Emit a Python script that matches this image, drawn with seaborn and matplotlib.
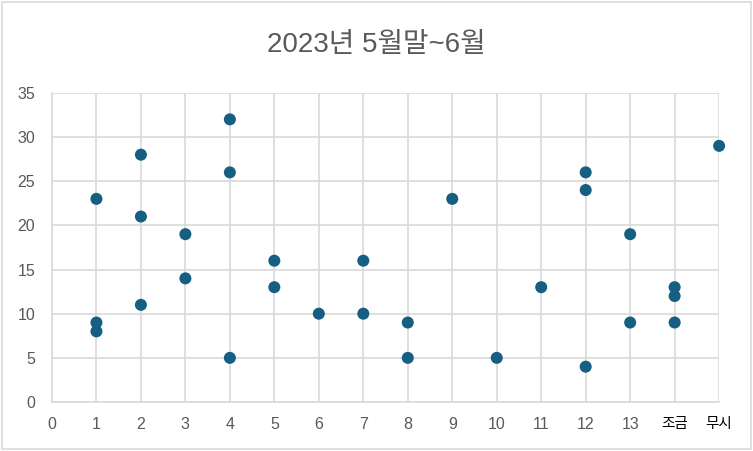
import numpy as np
import pandas as pd
import matplotlib.pyplot as plt
import seaborn as sns

# x categories (tick labels) and the points
tick_labels = ['0', '1', '2', '3', '4', '5', '6', '7', '8', '9', '10', '11', '12', '13', '조금', '무시']
x_vals = [1, 1, 1, 2, 2, 2, 3, 3, 4, 4, 4, 5, 5, 6, 7, 7, 8, 8, 9, 10, 11, 12, 12, 12, 13, 13, 14, 14, 14, 15]
y_vals = [23, 9, 8, 28, 21, 11, 19, 14, 32, 26, 5, 16, 13, 10, 16, 10, 9, 5, 23, 5, 13, 26, 24, 4, 19, 9, 13, 12, 9, 29]

df = pd.DataFrame({'x': x_vals, 'y': y_vals})

sns.set_style('white')
plt.rcParams['font.family'] = ['Liberation Sans', 'Noto Sans CJK KR', 'DejaVu Sans']

fig = plt.figure(figsize=(7.53, 4.51), dpi=100)
ax = fig.add_axes([0.069, 0.1086, 0.886, 0.6855])

sns.scatterplot(data=df, x='x', y='y', ax=ax, color='#156082', s=75,
                edgecolor='none', zorder=3, clip_on=False)

ax.set_xlim(0, 15)
ax.set_ylim(0, 35)
ax.set_xticks(range(len(tick_labels)))
ax.set_xticklabels(tick_labels)
ax.set_yticks(np.arange(0, 36, 5))
ax.grid(True, color='#D9D9D9', linewidth=1.2)
ax.set_axisbelow(True)
for sp in ax.spines.values():
    sp.set_color('#D9D9D9')
    sp.set_linewidth(1.2)
ax.spines['top'].set_visible(False)
ax.spines['right'].set_visible(False)
ax.tick_params(length=0, labelsize=11.5, colors='#595959')
ax.tick_params(axis='x', pad=11)
ax.tick_params(axis='y', pad=12)
for lab in ax.get_xticklabels()[-2:]:
    lab.set_color('black')
    lab.set_fontfamily(['Noto Sans CJK KR'])
    lab.set_fontsize(10.5)
ax.set_xlabel('')
ax.set_ylabel('')

fig.text(0.5, 0.9, '2023년 5월말~6월', ha='center', va='center',
         fontsize=20, color='#595959')

border = plt.Rectangle((0.002, 0.004), 0.995, 0.992, transform=fig.transFigure,
                       fill=False, edgecolor='#D9D9D9', linewidth=1.2)
fig.patches.append(border)

fig.savefig('out.png', dpi=100)
